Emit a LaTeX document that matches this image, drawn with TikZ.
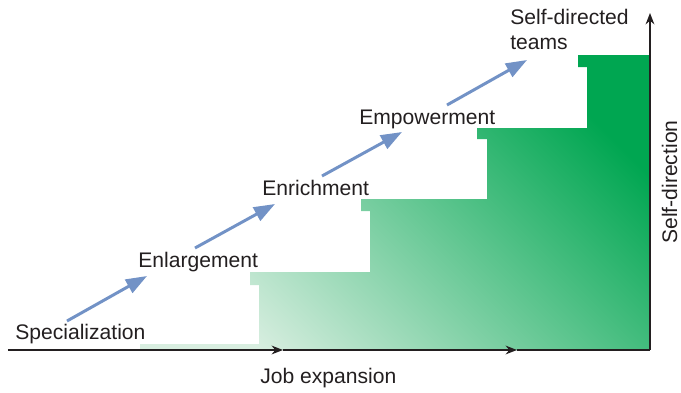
\documentclass[tikz,border=0pt]{standalone}
\usepackage{fontspec}
\setmainfont{Liberation Sans}
\usepackage{xcolor}
\usetikzlibrary{arrows.meta}

\definecolor{stepdark}{RGB}{0,166,81}
\definecolor{steplight}{RGB}{216,238,224}
\definecolor{arrowblue}{RGB}{114,146,198}
\definecolor{labelgray}{RGB}{35,31,32}

\begin{document}
\begin{tikzpicture}[
    x=0.02cm, y=-0.02cm,
    font=\fontsize{12}{14}\selectfont,
    stagelabel/.style={anchor=base west, inner sep=0pt, text=labelgray},
    stagearrow/.style={draw=arrowblue, line width=1.7pt, -{Triangle[length=12pt,width=8.5pt]}},
    axisline/.style={line width=0.7pt, draw=labelgray}
]
    \useasboundingbox (0,0) rectangle (681,393);

    % Staircase
    \shade[bottom color=steplight, top color=stepdark, shading angle=-45]
        (140,350) -- (140,344) -- (259,344) -- (259,285) -- (250,285) -- (250,272)
        -- (370,272) -- (370,211) -- (361,211) -- (361,199)
        -- (487,199) -- (487,139) -- (477,139) -- (477,128)
        -- (587,128) -- (587,67) -- (578,67) -- (578,55)
        -- (649,55) -- (649,350) -- cycle;

    % Axes
    \coordinate (origin) at (8,350);
    \coordinate (mid1) at (283,350);
    \coordinate (mid2) at (517,350);
    \coordinate (corner) at (650,350);
    \coordinate (top) at (650,13);
    \draw[axisline, -{Stealth[length=6.5pt,width=5pt]}] (origin) -- (mid1);
    \draw[axisline, -{Stealth[length=6.5pt,width=5pt]}] (mid1) -- (mid2);
    \draw[axisline] (mid2) -- (corner);
    \draw[axisline, -{Stealth[length=6.5pt,width=5pt]}] (corner) -- (top);

    \node[stagelabel] (jobx) at (260,383) {Job expansion};
    \node[stagelabel, anchor=base, rotate=90] (selfd) at (677,182) {Self-direction};

    % Stages
    \node[stagelabel] (spec) at (15,339) {Specialization};
    \node[stagelabel] (enlg) at (138,267) {Enlargement};
    \node[stagelabel] (enri) at (262,195) {Enrichment};
    \node[stagelabel] (empw) at (359,124) {Empowerment};
    \node[stagelabel, anchor=north west, align=left] (team) at (510,9) {Self-directed\\teams};

    \coordinate (a1s) at (67,321);  \coordinate (a1e) at (147,276);
    \coordinate (a2s) at (195,248); \coordinate (a2e) at (275,204);
    \coordinate (a3s) at (322,176); \coordinate (a3e) at (402,132);
    \coordinate (a4s) at (447,105); \coordinate (a4e) at (527,60);
    \draw[stagearrow] (a1s) -- (a1e);
    \draw[stagearrow] (a2s) -- (a2e);
    \draw[stagearrow] (a3s) -- (a3e);
    \draw[stagearrow] (a4s) -- (a4e);
\end{tikzpicture}
\end{document}
